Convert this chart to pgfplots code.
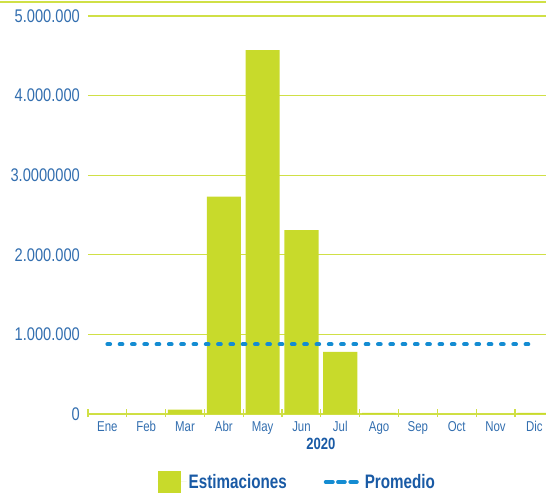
\documentclass[border=0pt]{standalone}
\usepackage{fontspec}
\setmainfont{Liberation Sans}[FakeStretch=0.8]
\newfontfamily\legfont{Liberation Sans}[FakeStretch=0.78]
\usepackage{pgfplots}
\pgfplotsset{compat=1.18}
\definecolor{barg}{RGB}{200,218,43}
\definecolor{gridg}{RGB}{208,224,70}
\definecolor{lineb}{RGB}{20,140,210}
\definecolor{tickb}{RGB}{50,110,175}
\definecolor{legb}{RGB}{25,90,165}
\begin{document}
\begin{tikzpicture}
\begin{axis}[
  name=ax,
  scale only axis,
  width=458pt, height=412pt,
  xmin=-0.5, xmax=11.3,
  ymin=0, ymax=5176000,
  scaled y ticks=false,
  axis x line*=bottom, axis y line*=left,
  x axis line style={gridg, line width=1.2pt, -},
  y axis line style={draw=none},
  ytick={0,1000000,2000000,3000000,4000000,5000000},
  yticklabels={0,1.000.000,2.000.000,3.0000000,4.000.000,5.000.000},
  yticklabel style={font=\fontsize{18.3}{20}\selectfont, text=tickb, inner sep=0pt, anchor=east, xshift=-8pt},
  xtick={0,...,11},
  xticklabels={Ene,Feb,Mar,Abr,May,Jun,Jul,Ago,Sep,Oct,Nov,Dic},
  xticklabel style={font=\fontsize{14.3}{16}\selectfont, text=tickb, inner sep=0pt, anchor=north, yshift=-7pt},
  minor xtick={-0.5,0.5,...,11.5},
  major tick length=0pt,
  minor tick length=8pt,
  every minor tick/.append style={gridg, line width=1.2pt, yshift=-3pt},
  ymajorgrids,
  major grid style={gridg, line width=1.2pt},
  clip=false,
  legend columns=2,
  legend style={at={(0.457,-0.165)}, anchor=center, draw=none, fill=none,
    font=\legfont\bfseries\fontsize{19.5}{21}\selectfont, text=legb,
    /tikz/every even column/.append style={column sep=35pt}},
]
\addplot[ybar, bar width=0.88, bar shift=0pt, fill=barg, draw=none,
  area legend,
  legend image code/.code={\fill[barg] (0pt,-11pt) rectangle (23pt,11pt); \path (0pt,0pt) -- (29pt,0pt);}]
  coordinates {(0,0) (1,0) (2,55000) (3,2730000) (4,4570000) (5,2310000)
               (6,780000) (7,15000) (8,0) (9,0) (10,0) (11,15000)};
\addlegendentry{Estimaciones}
\addplot[lineb, line width=4pt, line cap=round, dash pattern=on 2.7pt off 9.6pt,
  legend image code/.code={\path (0pt,0pt) -- (35pt,0pt);
    \draw[lineb, line width=4pt, line cap=round, solid] (2pt,0pt) -- (7pt,0pt);
    \draw[lineb, line width=4pt, line cap=round, solid] (14pt,0pt) -- (19pt,0pt);
    \draw[lineb, line width=4pt, line cap=round, solid] (26pt,0pt) -- (31pt,0pt);}]
  coordinates {(0,875000) (11,875000)};
\addlegendentry{Promedio}
\draw[gridg, line width=1.5pt] ([xshift=-88pt]rel axis cs:0,1) -- (rel axis cs:1,1);
\node[font=\bfseries\fontsize{16.3}{18}\selectfont, text=legb, anchor=center] at ([yshift=-30pt]axis cs:5.5,0) {2020};
\end{axis}
\pgfresetboundingbox
\path[use as bounding box] ([xshift=-88pt,yshift=-79pt]ax.south west) rectangle ([yshift=2pt]ax.north east);
\end{tikzpicture}
\end{document}
